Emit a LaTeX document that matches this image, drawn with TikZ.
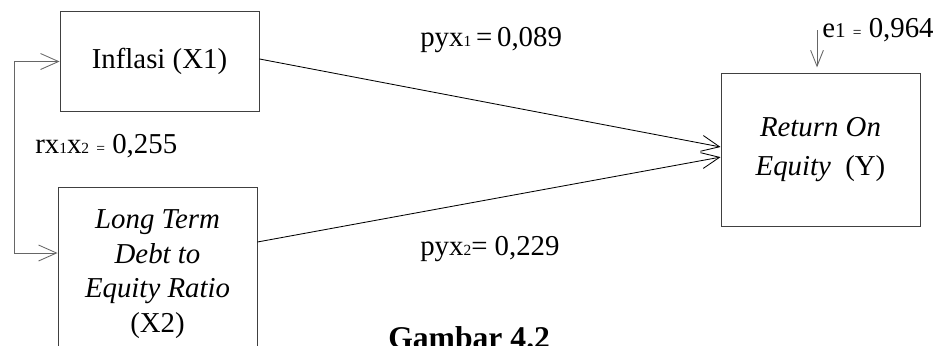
\documentclass[tikz,border=0pt]{standalone}
\usepackage{fontspec}
\setmainfont{Liberation Serif}
\usetikzlibrary{positioning, arrows.meta}
\newcommand{\sm}[1]{{\fontsize{11}{11}\selectfont #1}}

\begin{document}
\begin{tikzpicture}[x=0.025cm,y=-0.025cm,
    box/.style={draw=black!75,line width=0.6pt,minimum width=4.975cm,align=center,font=\fontsize{20.5}{24.5}\selectfont},
    arr/.style={-{Straight Barb[length=0.45cm,width=0.4cm]},line width=0.6pt},
    lbl/.style={anchor=base west,inner sep=0pt,font=\fontsize{20.5}{24.5}\selectfont}]
    \useasboundingbox (0,0) rectangle (942,345);
    \clip (0,0) rectangle (942,345);

    \node[box,minimum height=2.5cm](x1)at(159.5,61.5){Inflasi (X1)};%X1
    \node[box,minimum height=4.35cm](x2)at(157.5,274){\textit{Long Term}\\ \textit{Debt to}\\ \textit{Equity Ratio}\\ (X2)};%X2
    \node[box,minimum height=3.825cm](y)at(820.5,149.5){\textit{Return On}\\[3.6pt] \textit{Equity}\ \ (Y)};%Y

    \draw [arr](x1.east)++(0,1.8pt)--([yshift=1.8pt]y.west);
    \draw [arr]([yshift=0.8cm]x2.east)--([yshift=-0.19cm]y.west);

    \coordinate(lf)at(14,253);%korelasi X1-X2
    \draw [arr,draw=black!60](lf)|-(x1.west);
    \draw [arr,draw=black!60](lf)--(lf-|x2.west);

    \coordinate(et)at(817,30);%e1
    \draw [-{Straight Barb[length=0.4cm,width=0.32cm]},line width=0.6pt,draw=black!60,shorten >=0.13cm](et)--(et|-y.north);

    \node[lbl](p1)at(420,46){pyx\sm{1}\,=\,0,089};
    \node[lbl](p2)at(420,255){pyx\sm{2}= 0,229};
    \node[lbl](r12)at(35,153){rx\sm{1}x\sm{2} \sm{=} 0,255};
    \node[lbl](e1)at(822,37){e{\fontsize{15}{15}\selectfont 1} \sm{=} 0,964};
    \node[lbl,font=\fontsize{22.5}{26}\selectfont\bfseries](cap)at(388,348){Gambar 4.2};
\end{tikzpicture}
\end{document}
